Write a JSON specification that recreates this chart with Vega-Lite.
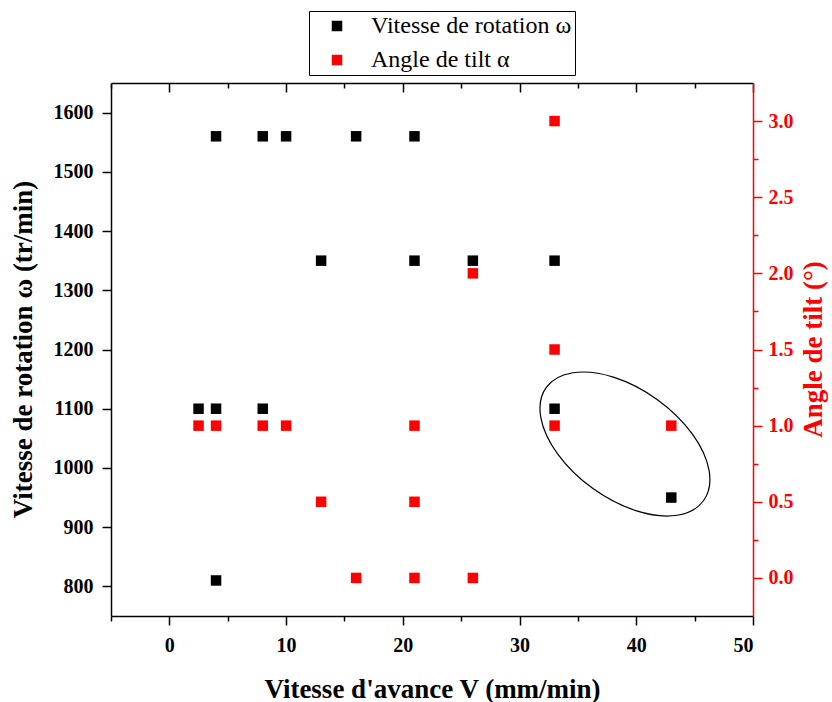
{
  "$schema": "https://vega.github.io/schema/vega-lite/v6.json",
  "width": 642,
  "height": 533,
  "autosize": "none",
  "padding": {"left": 111, "top": 83, "right": 79, "bottom": 86},
  "background": "white",
  "config": {
    "view": {"stroke": null},
    "font": "Liberation Serif",
    "axis": {
      "grid": false,
      "domainColor": "black",
      "domainWidth": 1.5,
      "tickColor": "black",
      "tickWidth": 1.5,
      "labelFont": "Liberation Serif",
      "labelFontWeight": "bold",
      "labelFontSize": 20,
      "labelColor": "black",
      "titleFont": "Liberation Serif",
      "titleFontWeight": "bold",
      "titleFontSize": 27,
      "titleColor": "black"
    }
  },
  "datasets": {
    "omega": [
      {"V": 4, "w": 1560}, {"V": 8, "w": 1560}, {"V": 10, "w": 1560}, {"V": 16, "w": 1560}, {"V": 21, "w": 1560},
      {"V": 13, "w": 1350}, {"V": 21, "w": 1350}, {"V": 26, "w": 1350}, {"V": 33, "w": 1350},
      {"V": 2.5, "w": 1100}, {"V": 4, "w": 1100}, {"V": 8, "w": 1100}, {"V": 33, "w": 1100},
      {"V": 43, "w": 950}, {"V": 4, "w": 810}
    ],
    "alpha": [
      {"V": 33, "a": 3.0}, {"V": 26, "a": 2.0}, {"V": 33, "a": 1.5},
      {"V": 2.5, "a": 1.0}, {"V": 4, "a": 1.0}, {"V": 8, "a": 1.0}, {"V": 10, "a": 1.0}, {"V": 21, "a": 1.0}, {"V": 33, "a": 1.0}, {"V": 43, "a": 1.0},
      {"V": 13, "a": 0.5}, {"V": 21, "a": 0.5},
      {"V": 16, "a": 0.0}, {"V": 21, "a": 0.0}, {"V": 26, "a": 0.0}
    ],
    "ellipse": [
      {"i": 0, "V": 45.77, "w": 945.0}, {"i": 1, "V": 43.5, "w": 920.1}, {"i": 2, "V": 40.03, "w": 927.5},
      {"i": 3, "V": 36.29, "w": 965.2}, {"i": 4, "V": 33.29, "w": 1023.0}, {"i": 5, "V": 31.82, "w": 1085.5},
      {"i": 6, "V": 32.29, "w": 1135.9}, {"i": 7, "V": 34.57, "w": 1160.7}, {"i": 8, "V": 38.04, "w": 1153.4},
      {"i": 9, "V": 41.78, "w": 1115.7}, {"i": 10, "V": 44.78, "w": 1057.9}, {"i": 11, "V": 46.24, "w": 995.4}
    ]
  },
  "layer": [
    {
      "layer": [
        {
          "data": {"name": "ellipse"},
          "mark": {"type": "line", "interpolate": "cardinal-closed", "color": "black", "strokeWidth": 1.2},
          "encoding": {
            "x": {"field": "V", "type": "quantitative"},
            "y": {"field": "w", "type": "quantitative"},
            "order": {"field": "i", "type": "quantitative"}
          }
        },
        {
          "data": {"name": "omega"},
          "mark": {"type": "point", "shape": "square", "filled": true, "size": 110, "opacity": 1},
          "encoding": {
            "x": {
              "field": "V", "type": "quantitative",
              "scale": {"domain": [-5, 50], "nice": false, "zero": false},
              "axis": {
                "orient": "bottom",
                "title": "Vitesse d'avance V (mm/min)",
                "labelFont": "Liberation Serif",
                "titleFont": "Liberation Serif",
                "values": [-5, 0, 5, 10, 15, 20, 25, 30, 35, 40, 45, 50],
                "labelExpr": "datum.value % 10 === 0 ? datum.label : ''",
                "tickSize": {"condition": {"test": {"field": "value", "oneOf": [0, 10, 20, 30, 40, 50]}, "value": 9}, "value": 5},
                "labelPadding": 10,
                "titleY": 73,
                "titleBaseline": "middle"
              }
            },
            "y": {
              "field": "w", "type": "quantitative",
              "scale": {"domain": [750, 1650], "nice": false, "zero": false},
              "axis": {
                "orient": "left",
                "title": "Vitesse de rotation ω (tr/min)",
                "labelFont": "Liberation Serif",
                "titleFont": "Liberation Serif",
                "titleFontSize": 27,
                "format": "d",
                "values": [800, 850, 900, 950, 1000, 1050, 1100, 1150, 1200, 1250, 1300, 1350, 1400, 1450, 1500, 1550, 1600],
                "labelExpr": "datum.value % 100 === 0 ? datum.label : ''",
                "tickSize": {"condition": {"test": {"field": "value", "oneOf": [800, 900, 1000, 1100, 1200, 1300, 1400, 1500, 1600]}, "value": 9}, "value": 5},
                "labelPadding": 9,
                "titleX": -88,
                "titleY": 266,
                "titleAngle": -90,
                "titleBaseline": "middle",
                "titleAlign": "center"
              }
            },
            "color": {
              "datum": "Vitesse de rotation ω",
              "type": "nominal",
              "scale": {"domain": ["Vitesse de rotation ω", "Angle de tilt α"], "range": ["#000000", "#ff0000"]},
              "legend": {
                "title": null,
                "orient": "none",
                "legendX": 198,
                "legendY": -72,
                "strokeColor": "black",
                "padding": 3,
                "symbolType": "square",
                "symbolSize": 110,
                "symbolOffset": 13,
                "labelOffset": 22,
                "rowPadding": 10,
                "labelFont": "Liberation Serif",
                "labelFontSize": 24,
                "labelColor": "black",
                "labelLimit": 400
              }
            }
          }
        }
      ]
    },
    {
      "data": {"name": "alpha"},
      "mark": {"type": "point", "shape": "square", "filled": true, "size": 110, "opacity": 1},
      "encoding": {
        "x": {
          "field": "V", "type": "quantitative",
          "scale": {"domain": [-5, 50], "nice": false, "zero": false},
          "axis": {
            "orient": "top",
            "title": null,
            "labels": false,
            "values": [-5, 0, 5, 10, 15, 20, 25, 30, 35, 40, 45, 50],
            "tickSize": {"condition": {"test": {"field": "value", "oneOf": [0, 10, 20, 30, 40, 50]}, "value": -9}, "value": -5}
          }
        },
        "y": {
          "field": "a", "type": "quantitative",
          "scale": {"domain": [-0.25, 3.25], "nice": false, "zero": false},
          "axis": {
            "orient": "right",
            "title": "Angle de tilt (°)",
            "labelFont": "Liberation Serif",
            "titleFont": "Liberation Serif",
            "format": ".1f",
            "values": [0, 0.25, 0.5, 0.75, 1, 1.25, 1.5, 1.75, 2, 2.25, 2.5, 2.75, 3],
            "labelExpr": "round(datum.value * 100) % 50 === 0 ? datum.label : ''",
            "tickSize": {"condition": {"test": {"field": "value", "oneOf": [0, 0.5, 1, 1.5, 2, 2.5, 3]}, "value": 9}, "value": 5},
            "domainColor": "#ff0000",
            "tickColor": "#ff0000",
            "labelColor": "#ff0000",
            "titleColor": "#ff0000",
            "labelPadding": 6,
            "titleX": 60,
            "titleY": 266,
            "titleAngle": -90,
            "titleBaseline": "middle",
            "titleAlign": "center"
          }
        },
        "color": {"datum": "Angle de tilt α", "type": "nominal"}
      }
    }
  ],
  "resolve": {"scale": {"y": "independent"}, "axis": {"x": "independent"}}
}
